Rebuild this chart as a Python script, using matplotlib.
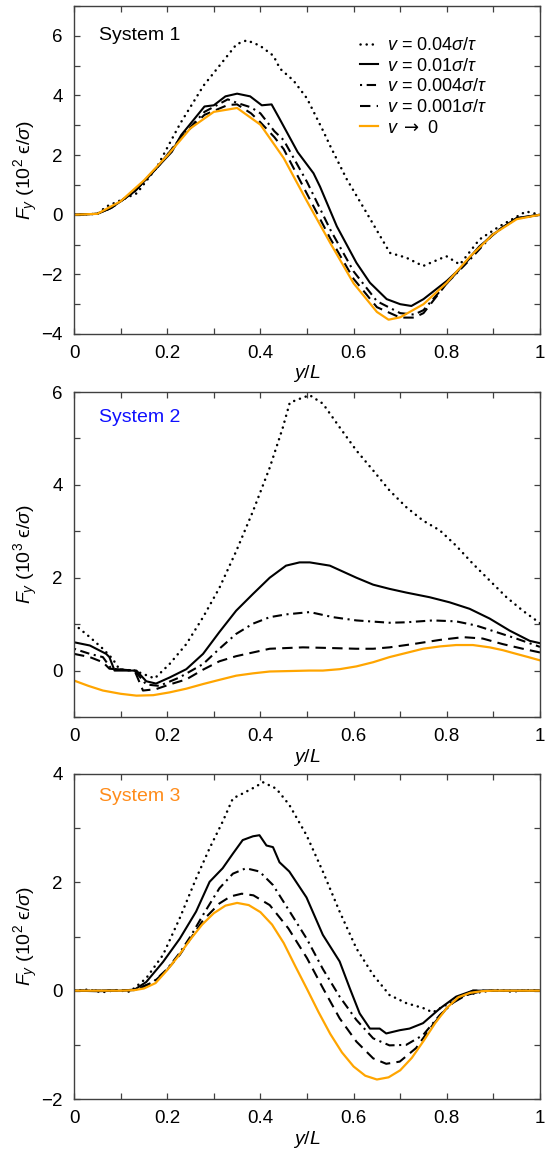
import matplotlib
matplotlib.use("Agg")
import matplotlib.pyplot as plt
from matplotlib.ticker import MultipleLocator

plt.rcParams['font.family'] = ['Liberation Sans', 'DejaVu Sans']
plt.rcParams['mathtext.fontset'] = 'custom'
plt.rcParams['mathtext.rm'] = 'Liberation Sans'
plt.rcParams['mathtext.it'] = 'Liberation Sans:italic'
plt.rcParams['mathtext.bf'] = 'Liberation Sans:bold'
plt.rcParams['mathtext.sf'] = 'DejaVu Sans'

# ---------------- data ----------------
labels = [r'$v$ = 0.04$\sigma/\tau$', r'$v$ = 0.01$\sigma/\tau$',
          r'$v$ = 0.004$\sigma/\tau$', r'$v$ = 0.001$\sigma/\tau$',
          r'$v\ \mathsf{\rightarrow}\ 0$']

# System 1
s1_x_04 = [0, 0.05, 0.07, 0.135, 0.178, 0.228, 0.278, 0.321, 0.349, 0.371, 0.399, 0.428, 0.442, 0.471, 0.5, 0.535, 0.55, 0.585, 0.628, 0.678, 0.713, 0.749, 0.799, 0.828, 0.87, 0.913, 0.97, 1.0]
s1_y_04 = [0, 0.03, 0.28, 0.72, 1.6, 3.06, 4.33, 5.17, 5.72, 5.85, 5.67, 5.33, 4.9, 4.5, 3.9, 2.8, 2.3, 1.2, 0.06, -1.28, -1.44, -1.72, -1.39, -1.67, -0.83, -0.39, 0.11, 0.0]
s1_x_01 = [0, 0.05, 0.08, 0.13, 0.18, 0.21, 0.23, 0.28, 0.30, 0.325, 0.35, 0.378, 0.403, 0.424, 0.44, 0.48, 0.514, 0.528, 0.564, 0.606, 0.635, 0.671, 0.70, 0.724, 0.75, 0.80, 0.83, 0.87, 0.913, 0.95, 1.0]
s1_y_01 = [0, 0.03, 0.23, 0.78, 1.61, 2.11, 2.67, 3.63, 3.67, 3.97, 4.06, 3.97, 3.67, 3.7, 3.25, 2.1, 1.39, 0.94, -0.39, -1.61, -2.28, -2.83, -3.0, -3.06, -2.83, -2.22, -1.78, -1.06, -0.5, -0.11, 0]
s1_x_004 = [0, 0.05, 0.08, 0.13, 0.18, 0.23, 0.28, 0.33, 0.35, 0.38, 0.4, 0.43, 0.45, 0.5, 0.55, 0.6, 0.65, 0.7, 0.73, 0.75, 0.8, 0.85, 0.9, 0.95, 1.0]
s1_y_004 = [0, 0.03, 0.23, 0.78, 1.61, 2.6, 3.45, 3.87, 3.75, 3.6, 3.4, 2.8, 2.5, 1.1, -0.5, -1.9, -2.9, -3.3, -3.35, -3.2, -2.3, -1.5, -0.65, -0.12, 0]
s1_x_001 = s1_x_004
s1_y_001 = [0, 0.03, 0.23, 0.78, 1.61, 2.6, 3.35, 3.68, 3.7, 3.4, 3.1, 2.6, 2.2, 0.7, -0.8, -2.15, -3.1, -3.45, -3.45, -3.3, -2.3, -1.45, -0.62, -0.12, 0]
s1_x_0 = [0, 0.05, 0.1, 0.15, 0.2, 0.25, 0.3, 0.35, 0.4, 0.45, 0.5, 0.55, 0.6, 0.65, 0.675, 0.7, 0.75, 0.8, 0.85, 0.9, 0.95, 1.0]
s1_y_0 = [0, 0.03, 0.45, 1.15, 1.98, 2.9, 3.45, 3.58, 3.02, 1.9, 0.45, -0.95, -2.3, -3.26, -3.52, -3.44, -3.0, -2.28, -1.4, -0.65, -0.15, 0]

# System 2
s2_x_04 = [0, 0.034, 0.062, 0.083, 0.098, 0.13, 0.173, 0.205, 0.241, 0.277, 0.312, 0.348, 0.384, 0.42, 0.448, 0.463, 0.491, 0.506, 0.534, 0.57, 0.606, 0.642, 0.677, 0.713, 0.749, 0.785, 0.82, 0.856, 0.892, 0.928, 0.963, 1.0]
s2_y_04 = [1.0, 0.72, 0.47, 0.25, 0.02, 0.0, -0.17, 0.14, 0.57, 1.15, 1.78, 2.57, 3.43, 4.37, 5.23, 5.77, 5.88, 5.93, 5.75, 5.24, 4.74, 4.31, 3.88, 3.52, 3.23, 3.02, 2.69, 2.30, 1.94, 1.58, 1.29, 1.02]
s2_x_01 = [0, 0.034, 0.069, 0.076, 0.087, 0.134, 0.155, 0.176, 0.205, 0.241, 0.277, 0.312, 0.348, 0.384, 0.42, 0.455, 0.484, 0.506, 0.549, 0.606, 0.642, 0.677, 0.713, 0.763, 0.806, 0.849, 0.892, 0.935, 0.978, 1.0]
s2_y_01 = [0.61, 0.54, 0.36, 0.29, 0.0, 0.0, -0.23, -0.28, -0.15, 0.03, 0.36, 0.83, 1.29, 1.65, 2.0, 2.26, 2.33, 2.33, 2.26, 2.0, 1.85, 1.76, 1.68, 1.58, 1.47, 1.33, 1.12, 0.86, 0.64, 0.59]
s2_x_004 = [0, 0.034, 0.062, 0.08, 0.13, 0.155, 0.183, 0.226, 0.277, 0.312, 0.348, 0.384, 0.42, 0.455, 0.506, 0.556, 0.606, 0.677, 0.713, 0.77, 0.82, 0.863, 0.906, 0.949, 1.0]
s2_y_004 = [0.47, 0.36, 0.29, 0.04, 0.0, -0.3, -0.33, -0.15, 0.14, 0.47, 0.79, 1.01, 1.15, 1.21, 1.26, 1.15, 1.08, 1.03, 1.04, 1.08, 1.06, 0.97, 0.83, 0.69, 0.51]
s2_x_001 = [0, 0.034, 0.062, 0.076, 0.13, 0.148, 0.176, 0.205, 0.241, 0.277, 0.312, 0.348, 0.384, 0.42, 0.491, 0.534, 0.606, 0.642, 0.677, 0.727, 0.785, 0.835, 0.877, 0.92, 0.963, 1.0]
s2_y_001 = [0.36, 0.29, 0.18, 0.04, 0.0, -0.43, -0.4, -0.3, -0.19, 0.02, 0.2, 0.31, 0.39, 0.47, 0.5, 0.49, 0.47, 0.47, 0.5, 0.57, 0.66, 0.72, 0.69, 0.57, 0.47, 0.39]
s2_x_0 = [0, 0.031, 0.062, 0.1, 0.134, 0.17, 0.205, 0.241, 0.277, 0.312, 0.348, 0.384, 0.42, 0.463, 0.505, 0.534, 0.57, 0.606, 0.642, 0.677, 0.713, 0.749, 0.785, 0.82, 0.856, 0.892, 0.92, 0.949, 0.975, 1.0]
s2_y_0 = [-0.215, -0.33, -0.43, -0.5, -0.54, -0.53, -0.47, -0.39, -0.29, -0.2, -0.11, -0.06, -0.02, -0.01, 0.0, 0.0, 0.03, 0.09, 0.18, 0.29, 0.38, 0.47, 0.52, 0.55, 0.55, 0.5, 0.44, 0.36, 0.29, 0.22]

# System 3
s3_x_04 = [0, 0.03, 0.06, 0.09, 0.12, 0.155, 0.191, 0.227, 0.262, 0.291, 0.319, 0.341, 0.362, 0.391, 0.405, 0.434, 0.462, 0.499, 0.534, 0.57, 0.606, 0.642, 0.677, 0.713, 0.749, 0.77, 0.799, 0.842, 0.877, 0.91, 0.94, 0.97, 1.0]
s3_y_04 = [0, 0.02, -0.03, 0.01, -0.02, 0.23, 0.66, 1.34, 2.07, 2.63, 3.12, 3.55, 3.64, 3.77, 3.85, 3.73, 3.43, 2.87, 2.2, 1.46, 0.78, 0.29, -0.08, -0.23, -0.32, -0.4, -0.26, -0.08, -0.02, 0.01, -0.02, 0.01, 0]
s3_x_01 = [0, 0.05, 0.1, 0.13, 0.155, 0.191, 0.227, 0.262, 0.291, 0.319, 0.341, 0.362, 0.384, 0.398, 0.413, 0.427, 0.441, 0.462, 0.499, 0.534, 0.57, 0.592, 0.613, 0.635, 0.656, 0.67, 0.699, 0.72, 0.749, 0.785, 0.82, 0.856, 0.9, 1.0]
s3_y_01 = [0, -0.01, 0.0, 0.02, 0.16, 0.53, 0.96, 1.46, 2.01, 2.26, 2.53, 2.78, 2.85, 2.87, 2.68, 2.65, 2.37, 2.2, 1.72, 1.03, 0.54, 0.04, -0.42, -0.7, -0.7, -0.79, -0.73, -0.7, -0.6, -0.33, -0.11, 0, 0, 0]
s3_x_004 = [0, 0.13, 0.17, 0.2, 0.227, 0.25, 0.277, 0.312, 0.341, 0.369, 0.398, 0.427, 0.46, 0.5, 0.534, 0.57, 0.606, 0.642, 0.677, 0.713, 0.749, 0.785, 0.82, 0.856, 1.0]
s3_y_004 = [0, 0.01, 0.16, 0.4, 0.7, 1.0, 1.4, 1.89, 2.16, 2.26, 2.2, 1.95, 1.5, 0.95, 0.4, -0.11, -0.54, -0.88, -1.01, -1.0, -0.82, -0.45, -0.17, 0, 0]
s3_x_001 = [0, 0.13, 0.17, 0.2, 0.227, 0.25, 0.277, 0.312, 0.336, 0.36, 0.385, 0.42, 0.46, 0.5, 0.534, 0.57, 0.606, 0.642, 0.67, 0.699, 0.734, 0.77, 0.806, 0.842, 0.88, 1.0]
s3_y_001 = [0, 0.01, 0.15, 0.39, 0.66, 0.96, 1.3, 1.61, 1.74, 1.79, 1.76, 1.58, 1.15, 0.6, 0.05, -0.51, -0.94, -1.25, -1.35, -1.31, -1.06, -0.63, -0.26, -0.08, 0, 0]
s3_x_0 = [0, 0.05, 0.1, 0.13, 0.15, 0.175, 0.2, 0.225, 0.25, 0.275, 0.3, 0.325, 0.35, 0.375, 0.4, 0.425, 0.45, 0.475, 0.5, 0.525, 0.55, 0.575, 0.6, 0.625, 0.65, 0.675, 0.7, 0.725, 0.75, 0.775, 0.8, 0.825, 0.85, 0.875, 0.9, 0.95, 1.0]
s3_y_0 = [0, 0, 0, 0.01, 0.04, 0.14, 0.38, 0.65, 0.95, 1.22, 1.43, 1.57, 1.62, 1.58, 1.45, 1.22, 0.88, 0.45, 0.03, -0.4, -0.8, -1.14, -1.4, -1.57, -1.64, -1.6, -1.47, -1.24, -0.93, -0.6, -0.32, -0.12, -0.04, -0.01, 0, 0, 0]

systems = [
    dict(name='System 1', color='black', ylim=(-4, 7), yticks=[-4, -2, 0, 2, 4, 6], exp='2', tpos=0.909,
         xs=[s1_x_04, s1_x_01, s1_x_004, s1_x_001, s1_x_0],
         ys=[s1_y_04, s1_y_01, s1_y_004, s1_y_001, s1_y_0]),
    dict(name='System 2', color='#1010ff', ylim=(-1, 6), yticks=[0, 2, 4, 6], exp='3', tpos=0.923,
         xs=[s2_x_04, s2_x_01, s2_x_004, s2_x_001, s2_x_0],
         ys=[s2_y_04, s2_y_01, s2_y_004, s2_y_001, s2_y_0]),
    dict(name='System 3', color='#ff8c1a', ylim=(-2, 4), yticks=[-2, 0, 2, 4], exp='2', tpos=0.932,
         xs=[s3_x_04, s3_x_01, s3_x_004, s3_x_001, s3_x_0],
         ys=[s3_y_04, s3_y_01, s3_y_004, s3_y_001, s3_y_0]),
]

styles = [
    dict(color='black', lw=1.8, linestyle=(0, (0.05, 2.4)), dash_capstyle='round'),
    dict(color='black', lw=1.5, linestyle='-'),
    dict(color='black', lw=1.5, linestyle=(6.7, (4.5, 2.2, 1.0, 2.2))),
    dict(color='black', lw=1.5, linestyle=(0, (5.0, 3.0))),
    dict(color='#ffa500', lw=1.6, linestyle='-'),
]

W, H = 545, 1149
fig = plt.figure(figsize=(W / 100, H / 100), dpi=100)
left = 74 / W
width = 466 / W
boxes = [(6, 334), (392, 717), (774, 1099)]
spine_col = '#404040'

for i, (sysd, (top, bot)) in enumerate(zip(systems, boxes)):
    ax = fig.add_axes([left, 1 - bot / H, width, (bot - top) / H])
    for j in range(5):
        ax.plot(sysd['xs'][j], sysd['ys'][j], label=labels[j], **styles[j])
    ax.set_xlim(0, 1)
    ax.set_ylim(*sysd['ylim'])
    ax.set_yticks(sysd['yticks'])
    ax.yaxis.set_minor_locator(MultipleLocator(1))
    ax.set_xticks([0, 0.2, 0.4, 0.6, 0.8, 1.0])
    ax.set_xticklabels(['0', '0.2', '0.4', '0.6', '0.8', '1'])
    ax.xaxis.set_minor_locator(MultipleLocator(0.1))
    ax.tick_params(which='both', direction='in', top=True, right=True,
                   length=4, width=0.9, color=spine_col, labelsize=13.5, pad=8)
    for sp in ax.spines.values():
        sp.set_color(spine_col)
        sp.set_linewidth(1.0)
    ax.set_xlabel(r'$y/L$', fontsize=14, labelpad=1)
    ax.set_ylabel(r'$F_y$ (10$^{%s}$ ϵ/$\sigma$)' % sysd['exp'], fontsize=14)
    ax.yaxis.set_label_coords(-0.072, 0.5)
    ax.text(0.054, sysd['tpos'], sysd['name'], transform=ax.transAxes, fontsize=14,
            color=sysd['color'], ha='left', va='center')
    if i == 0:
        ax.legend(loc='upper left', bbox_to_anchor=(0.614, 0.905), frameon=False,
                  fontsize=13, handlelength=1.0, handletextpad=0.5, labelspacing=0.2,
                  borderpad=0, borderaxespad=0)

fig.savefig('out.png', dpi=100)
